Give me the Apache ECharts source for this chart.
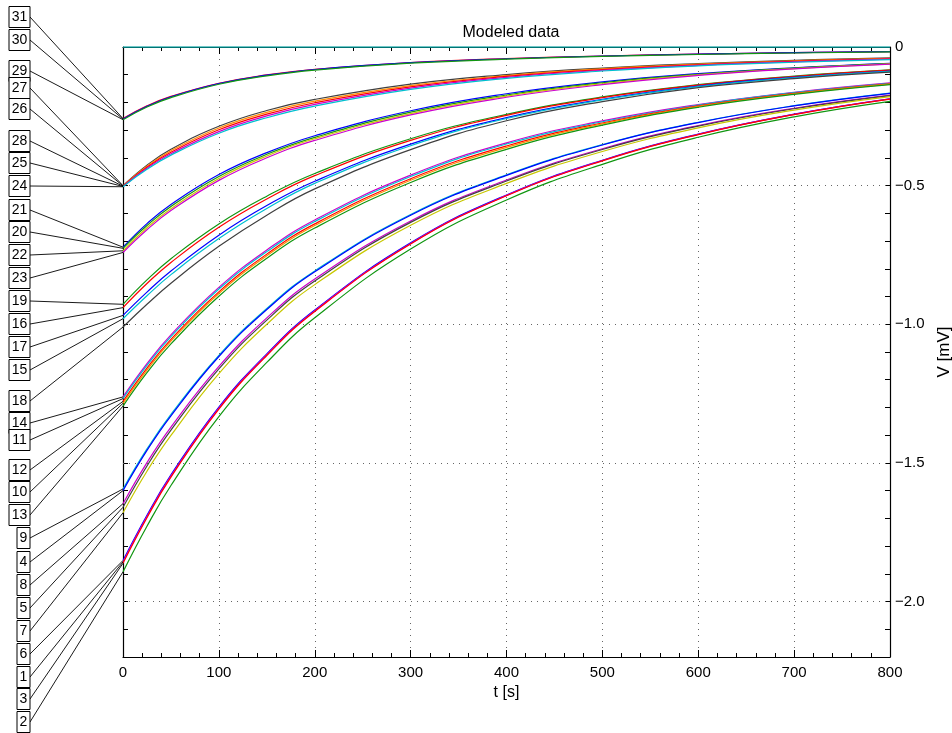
<!DOCTYPE html>
<html>
<head>
<meta charset="utf-8">
<script src="https://cdn.jsdelivr.net/npm/echarts@6/dist/echarts.min.js"></script>
<style>
  html, body { margin: 0; padding: 0; background: #fff; }
  #chart { width: 952px; height: 733px; }
</style>
</head>
<body>
<div id="chart"></div>
<script>
// sample times [s]
const tGrid = [0, 25, 50, 100, 150, 200, 300, 400, 500, 600, 700, 800];

// modeled curves, V [mV], one array per label
const c31 = [-0.258, -0.2123, -0.1782, -0.1307, -0.1008, -0.0805, -0.0561, -0.0420, -0.0324, -0.0255, -0.0205, -0.0166];
const c30 = [-0.260, -0.2139, -0.1796, -0.1317, -0.1016, -0.0811, -0.0566, -0.0423, -0.0327, -0.0257, -0.0206, -0.0167];
const c29 = [-0.262, -0.2164, -0.1824, -0.1344, -0.1040, -0.0833, -0.0584, -0.0440, -0.0341, -0.0270, -0.0217, -0.0178];

const c27 = [-0.500, -0.426, -0.369, -0.286, -0.229, -0.189, -0.134, -0.0995, -0.076, -0.060, -0.048, -0.039];
const c26 = [-0.501, -0.430, -0.374, -0.292, -0.2355, -0.195, -0.139, -0.103, -0.0786, -0.062, -0.0498, -0.0407];
const c28 = [-0.502, -0.4335, -0.3795, -0.2985, -0.242, -0.201, -0.1435, -0.106, -0.0813, -0.064, -0.0515, -0.0423];
const c25 = [-0.503, -0.437, -0.385, -0.305, -0.2485, -0.207, -0.148, -0.1095, -0.0839, -0.066, -0.0533, -0.044];
const c24 = [-0.504, -0.441, -0.390, -0.311, -0.255, -0.213, -0.153, -0.113, -0.0865, -0.068, -0.055, -0.0456];

const c21 = [-0.722, -0.637, -0.568, -0.460, -0.381, -0.320, -0.230, -0.1685, -0.126, -0.0962, -0.075, -0.059];
const c20 = [-0.726, -0.644, -0.575, -0.467, -0.387, -0.326, -0.235, -0.173, -0.129, -0.0983, -0.0763, -0.0599];
const c22 = [-0.735, -0.652, -0.583, -0.474, -0.393, -0.331, -0.240, -0.177, -0.1325, -0.1005, -0.0777, -0.0607];
const c23 = [-0.741, -0.659, -0.590, -0.481, -0.3996, -0.337, -0.245, -0.1813, -0.1357, -0.1026, -0.079, -0.0616];

const c19 = [-0.928, -0.840, -0.7636, -0.638, -0.538, -0.456, -0.331, -0.243, -0.180, -0.136, -0.105, -0.0825];
const c16 = [-0.940, -0.853, -0.777, -0.650, -0.548, -0.464, -0.337, -0.2465, -0.1826, -0.1376, -0.1064, -0.0837];
const c17 = [-0.968, -0.884, -0.808, -0.6785, -0.572, -0.484, -0.3505, -0.2545, -0.1885, -0.141, -0.1096, -0.0866];
const c15 = [-0.980, -0.897, -0.821, -0.691, -0.5825, -0.492, -0.356, -0.258, -0.191, -0.143, -0.111, -0.088];
const c18 = [-1.010, -0.928, -0.852, -0.719, -0.6065, -0.5117, -0.370, -0.266, -0.197, -0.1466, -0.1141, -0.0907];

const c14 = [-1.262, -1.142, -1.038, -0.867, -0.732, -0.6236, -0.462, -0.3457, -0.2665, -0.2076, -0.1633, -0.1297];
const c11 = [-1.268, -1.1485, -1.0446, -0.873, -0.738, -0.6295, -0.467, -0.350, -0.2696, -0.2095, -0.1648, -0.1309];
const c12 = [-1.278, -1.158, -1.0545, -0.883, -0.747, -0.638, -0.475, -0.357, -0.274, -0.2125, -0.1672, -0.1328];
const c10 = [-1.285, -1.165, -1.061, -0.889, -0.753, -0.644, -0.4805, -0.362, -0.2772, -0.2144, -0.1687, -0.134];
const c13 = [-1.295, -1.1747, -1.071, -0.899, -0.762, -0.653, -0.4885, -0.369, -0.2818, -0.2173, -0.171, -0.1358];

const c9 = [-1.594, -1.4496, -1.3248, -1.1121, -0.943, -0.8075, -0.6043, -0.4613, -0.3521, -0.2715, -0.2115, -0.1664];
const c4 = [-1.600, -1.455, -1.330, -1.1163, -0.9466, -0.8106, -0.6066, -0.463, -0.3534, -0.2725, -0.2123, -0.167];
const c8 = [-1.647, -1.499, -1.371, -1.152, -0.977, -0.837, -0.6275, -0.4796, -0.3668, -0.2831, -0.2209, -0.1738];
const c5 = [-1.660, -1.511, -1.382, -1.161, -0.985, -0.844, -0.6325, -0.4834, -0.3697, -0.2854, -0.2226, -0.1751];
const c7 = [-1.680, -1.530, -1.401, -1.178, -1.000, -0.857, -0.643, -0.492, -0.377, -0.2915, -0.2276, -0.179];

const c6 = [-1.852, -1.6885, -1.5431, -1.2986, -1.1066, -0.9486, -0.7064, -0.5337, -0.4084, -0.3141, -0.2422, -0.1867];
const c1 = [-1.857, -1.693, -1.547, -1.302, -1.1096, -0.9512, -0.7083, -0.5352, -0.4095, -0.3149, -0.2429, -0.1872];
const c3 = [-1.862, -1.6976, -1.5514, -1.3056, -1.1125, -0.9537, -0.7102, -0.5366, -0.4106, -0.3158, -0.2436, -0.1877];
const c2 = [-1.893, -1.7283, -1.5816, -1.3327, -1.1377, -0.9768, -0.7288, -0.5518, -0.4231, -0.3256, -0.2518, -0.1959];

// flat reference trace at 0
const zeroT = [0, 800];
const zeroV = [0, 0];

const curveLabels = ['31', '30', '29', '27', '26', '28', '25', '24', '21', '20', '22', '23',
  '19', '16', '17', '15', '18', '14', '11', '12', '10', '13', '9', '4', '8', '5', '7', '6', '1', '3', '2'];
const curveValues = [c31, c30, c29, c27, c26, c28, c25, c24, c21, c20, c22, c23,
  c19, c16, c17, c15, c18, c14, c11, c12, c10, c13, c9, c4, c8, c5, c7, c6, c1, c3, c2];

// ticks
const xMajor = [0, 100, 200, 300, 400, 500, 600, 700, 800];
const yGrid = [-0.5, -1.0, -1.5, -2.0];

// styles / layout
const RED = '#ff0000', GREEN = '#119611', BLUE = '#0000ff', CYAN = '#00bfcf',
  MAG = '#cc00cc', YEL = '#c8c800', GRAY = '#404040', ORA = '#ff8c00';
const curveColors = [RED, BLUE, GREEN, GRAY, ORA, RED, MAG, CYAN, BLUE, GREEN, YEL, MAG,
  GREEN, RED, BLUE, CYAN, GRAY, MAG, CYAN, RED, ORA, GREEN, CYAN, BLUE, MAG, GRAY, YEL,
  BLUE, MAG, RED, GREEN];
const labelY = [17, 40, 71, 88, 109, 141, 163, 186, 210, 232, 255, 278,
  301, 324, 347, 370, 401, 423, 440, 470, 492, 515, 538, 562, 585, 608, 631, 654, 677, 699, 722];

const FONT = 'Liberation Sans, Arial, Helvetica, sans-serif';

const chart = echarts.init(document.getElementById('chart'), null, { renderer: 'canvas' });

function yLabel(v) {
  const k = Math.round(v * 10);
  if (k % 5 !== 0) return '';
  if (k === 0) return '0';
  return '\u2212' + Math.abs(k / 10).toFixed(1);
}

const axisLineStyle = { show: true, onZero: false, lineStyle: { color: '#000', width: 1.2 } };

const series = [];
series.push({
  type: 'line',
  data: zeroT.map((t, i) => [t, zeroV[i]]),
  showSymbol: false,
  lineStyle: { color: '#009c9c', width: 1.6 },
  z: 3,
  silent: true,
  markLine: {
    silent: true,
    symbol: 'none',
    label: { show: false },
    lineStyle: { color: '#666', width: 1, type: [1, 5] },
    data: yGrid.map(v => ({ yAxis: v }))
  }
});
curveValues.forEach((vals, i) => {
  series.push({
    type: 'line',
    name: curveLabels[i],
    data: tGrid.map((t, j) => [t, vals[j]]),
    showSymbol: false,
    smooth: 0.45,
    lineStyle: { color: curveColors[i], width: 1.2 },
    z: 3,
    silent: true
  });
});

// label boxes with leader lines to each curve's start
series.push({
  type: 'custom',
  silent: true,
  clip: false,
  z: 5,
  data: curveValues.map((vals, i) => [0, vals[0], i]),
  renderItem: function (params, api) {
    const i = api.value(2);
    const p = api.coord([api.value(0), api.value(1)]);
    const lab = curveLabels[i];
    const w = lab.length > 1 ? 21 : 13;
    const right = 30;
    const ly = labelY[i];
    return {
      type: 'group',
      children: [
        { type: 'line', shape: { x1: right, y1: ly, x2: p[0], y2: p[1] },
          style: { stroke: '#000', lineWidth: 0.9 } },
        { type: 'rect', shape: { x: right - w, y: ly - 10.5, width: w, height: 21 },
          style: { fill: '#fff', stroke: '#000', lineWidth: 1 } },
        { type: 'text', style: { text: lab, x: right - w / 2, y: ly + 0.5,
          align: 'center', verticalAlign: 'middle', textAlign: 'center', textVerticalAlign: 'middle',
          font: '14px ' + FONT, fill: '#000' } }
      ]
    };
  }
});

chart.setOption({
  backgroundColor: '#fff',
  animation: false,
  title: {
    text: 'Modeled data',
    left: 506,
    top: 20,
    textAlign: 'center',
    textStyle: { fontSize: 16, fontWeight: 'normal', color: '#000', fontFamily: FONT }
  },
  grid: { left: 123, right: 62, top: 47, bottom: 76, containLabel: false, outerBoundsMode: 'none' },
  xAxis: [
    {
      type: 'value', min: 0, max: 800, interval: 100, position: 'bottom',
      axisLine: axisLineStyle,
      axisTick: { show: true, inside: true, length: 7, lineStyle: { color: '#000' } },
      minorTick: { show: true, splitNumber: 5, length: 4, lineStyle: { color: '#000' } },
      axisLabel: { color: '#000', fontSize: 15, fontFamily: FONT, margin: 8,
        formatter: v => (xMajor.indexOf(v) >= 0 ? String(v) : '') },
      splitLine: { show: true, lineStyle: { color: '#666', width: 1, type: [1, 5] } },
      name: 't [s]', nameLocation: 'middle', nameGap: 27,
      nameTextStyle: { color: '#000', fontSize: 16, fontFamily: FONT }
    },
    {
      type: 'value', min: 0, max: 800, interval: 100, position: 'top',
      axisLine: axisLineStyle,
      axisTick: { show: true, inside: true, length: 7, lineStyle: { color: '#000' } },
      minorTick: { show: true, splitNumber: 5, length: 4, lineStyle: { color: '#000' } },
      axisLabel: { show: false },
      splitLine: { show: false }
    }
  ],
  yAxis: [
    {
      type: 'value', min: -2.2, max: 0, interval: 0.1, position: 'right',
      axisLine: axisLineStyle,
      axisTick: { show: true, inside: true, length: 5, lineStyle: { color: '#000' } },
      axisLabel: { color: '#000', fontSize: 15, fontFamily: FONT, margin: 5, formatter: yLabel },
      splitLine: { show: false },
      name: 'V [mV]', nameLocation: 'middle', nameGap: 29, nameRotate: 90,
      nameTextStyle: { color: '#000', fontSize: 17, fontFamily: FONT }
    },
    {
      type: 'value', min: -2.2, max: 0, interval: 0.1, position: 'left',
      axisLine: axisLineStyle,
      axisTick: { show: true, inside: true, length: 5, lineStyle: { color: '#000' } },
      axisLabel: { show: false },
      splitLine: { show: false }
    }
  ],
  series: series
});
</script>
</body>
</html>
